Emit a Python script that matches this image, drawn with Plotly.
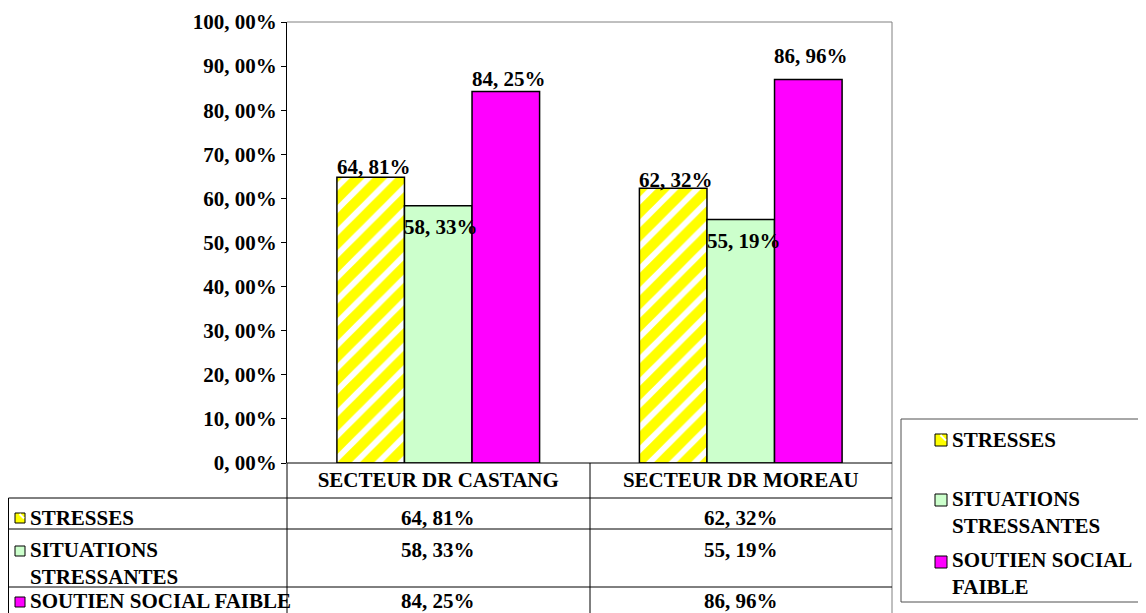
import plotly.graph_objects as go

# ---------------- data ----------------
categories = ["SECTEUR DR CASTANG", "SECTEUR DR MOREAU"]
series_names = ["STRESSES", "SITUATIONS STRESSANTES", "SOUTIEN SOCIAL FAIBLE"]
stresses = [64.81, 62.32]
situations = [58.33, 55.19]
soutien = [84.25, 86.96]
y_ticks = [0, 10, 20, 30, 40, 50, 60, 70, 80, 90, 100]

series_values = [stresses, situations, soutien]


def fmt(v):
    return f"{v:.2f}".replace(".", ", ") + "%"


# ---------------- style ----------------
W, H = 1146, 613          # reference canvas
OFF = 8                   # default page body margin
FW, FH = W - OFF, H - OFF  # figure size so that it fills the visible window
FONT = "Liberation Serif"
FS = 21
YELLOW, GREEN, MAGENTA = "#FFFF00", "#CCFFCC", "#FF00FF"
colors = [YELLOW, GREEN, MAGENTA]
BARGAP = 0.33
BW = (1 - BARGAP) / 3  # one bar width in category units

# plot area in reference pixels
PL, PR, PT, PB = 287, 892, 22, 463
ROW_LINES = [498, 529, 587]
COL_DIV = 590
TABLE_LEFT = 8.5


def px(x):
    return (x - OFF) / FW


def py(y):
    return 1 - (y - OFF) / FH


fig = go.Figure()
for k, (name, vals) in enumerate(zip(series_names, series_values)):
    marker = dict(color=colors[k], line=dict(color="black", width=1.5))
    if k == 0:
        marker = dict(
            color="white",
            line=dict(color="black", width=1.5),
            pattern=dict(shape="/", fgcolor=YELLOW, bgcolor="white", fgopacity=1,
                         size=16, solidity=0.64),
        )
    fig.add_trace(go.Bar(x=categories, y=vals, name=name, marker=marker, showlegend=False))

annotations = []
shapes = []
bold = dict(family=FONT, size=FS, color="black", weight="bold")

# bar value labels (Excel-like placement)
label_shift = {0: [10, 8], 1: [-21, -21], 2: [12, 24]}
for k, vals in enumerate(series_values):
    for i, v in enumerate(vals):
        if k == 1:
            annotations.append(dict(x=i - BW / 2, y=v, xref="x", yref="y", text=fmt(v),
                                    xanchor="left", yanchor="middle", yshift=label_shift[k][i],
                                    xshift=-2, showarrow=False, font=bold))
        else:
            annotations.append(dict(x=i + (k - 1) * BW, y=v, xref="x", yref="y", text=fmt(v),
                                    xanchor="center", yanchor="middle", yshift=label_shift[k][i],
                                    xshift=3, showarrow=False, font=bold))

# ---------------- data table ----------------
line_dark = dict(color="black", width=1)
line_gray = dict(color="#808080", width=1)
shapes.append(dict(type="line", xref="paper", yref="paper", x0=px(PL), x1=px(PR), y0=py(PT), y1=py(PT), line=line_gray))
shapes.append(dict(type="line", xref="paper", yref="paper", x0=px(PR), x1=px(PR), y0=py(PT), y1=0, line=line_gray))
shapes.append(dict(type="line", xref="paper", yref="paper", x0=px(PL), x1=px(PR), y0=py(PB), y1=py(PB), line=line_dark))
for yl in ROW_LINES:
    shapes.append(dict(type="line", xref="paper", yref="paper", x0=px(TABLE_LEFT), x1=px(PR), y0=py(yl), y1=py(yl), line=line_dark))
shapes.append(dict(type="line", xref="paper", yref="paper", x0=px(PL), x1=px(PL), y0=py(PB), y1=0, line=line_dark))
shapes.append(dict(type="line", xref="paper", yref="paper", x0=px(COL_DIV), x1=px(COL_DIV), y0=py(PB), y1=0, line=line_dark))
shapes.append(dict(type="line", xref="paper", yref="paper", x0=px(TABLE_LEFT), x1=px(TABLE_LEFT), y0=py(ROW_LINES[0]), y1=0, line=line_dark))

row_text_y = [518, 563, 601]
row_val_y = [518, 550, 601]
row_key_y = [518, 551, 602]
row_text = ["STRESSES", "SITUATIONS<br>STRESSANTES", "SOUTIEN SOCIAL FAIBLE"]


def key(x0, yc, size, k):
    out = []
    h = size / 2
    out.append(dict(type="rect", xref="paper", yref="paper",
                    x0=px(x0), x1=px(x0 + size), y0=py(yc + h), y1=py(yc - h),
                    fillcolor=colors[k], line=dict(color="black", width=1)))
    if k == 0:
        out.append(dict(type="line", xref="paper", yref="paper",
                        x0=px(x0 + size * 0.45), x1=px(x0 + size - 1), y0=py(yc - h + 1), y1=py(yc + h * 0.1),
                        line=dict(color="white", width=2)))
    return out


for k in range(3):
    annotations.append(dict(x=px(28), y=py(row_text_y[k]), xref="paper", yref="paper",
                            text=row_text[k], xanchor="left", yanchor="middle", align="left",
                            showarrow=False, font=bold))
    shapes.extend(key(15, row_key_y[k], 10, k))
    for i in range(len(categories)):
        annotations.append(dict(x=i, y=py(row_val_y[k]), xref="x", yref="paper",
                                text=fmt(series_values[k][i]), xanchor="center", yanchor="middle",
                                showarrow=False, font=bold))

# ---------------- legend (right) ----------------
shapes.append(dict(type="rect", xref="paper", yref="paper", x0=px(901), x1=px(1160), y0=py(419), y1=py(602),
                   line=dict(color="#505050", width=1), fillcolor="rgba(0,0,0,0)"))
leg_text = ["STRESSES", "SITUATIONS<br>STRESSANTES", "SOUTIEN SOCIAL<br>FAIBLE"]
leg_text_y = [440, 512, 573]
leg_key_y = [440, 500, 562]
for k in range(3):
    annotations.append(dict(x=px(950), y=py(leg_text_y[k]), xref="paper", yref="paper",
                            text=leg_text[k], xanchor="left", yanchor="middle", align="left",
                            showarrow=False, font=bold))
    shapes.extend(key(935, leg_key_y[k], 12, k))

fig.update_layout(
    width=FW, height=FH,
    margin=dict(l=0, r=0, t=0, b=0, autoexpand=False),
    paper_bgcolor="white", plot_bgcolor="white",
    barmode="group", bargap=BARGAP, bargroupgap=0,
    font=bold,
    showlegend=False,
    annotations=annotations,
    shapes=shapes,
    xaxis=dict(domain=[px(PL), px(PR)], type="category", showgrid=False, zeroline=False,
               showline=False, ticks="", tickfont=bold, ticklabelstandoff=2, automargin=False),
    yaxis=dict(domain=[py(PB), py(PT)], range=[0, 100], tickvals=y_ticks,
               ticktext=[fmt(v) for v in y_ticks], ticks="outside", ticklen=5, tickcolor="black",
               showline=True, linecolor="black", linewidth=1, showgrid=False, zeroline=False,
               tickfont=bold, automargin=False),
)

fig.write_html("out.html")
